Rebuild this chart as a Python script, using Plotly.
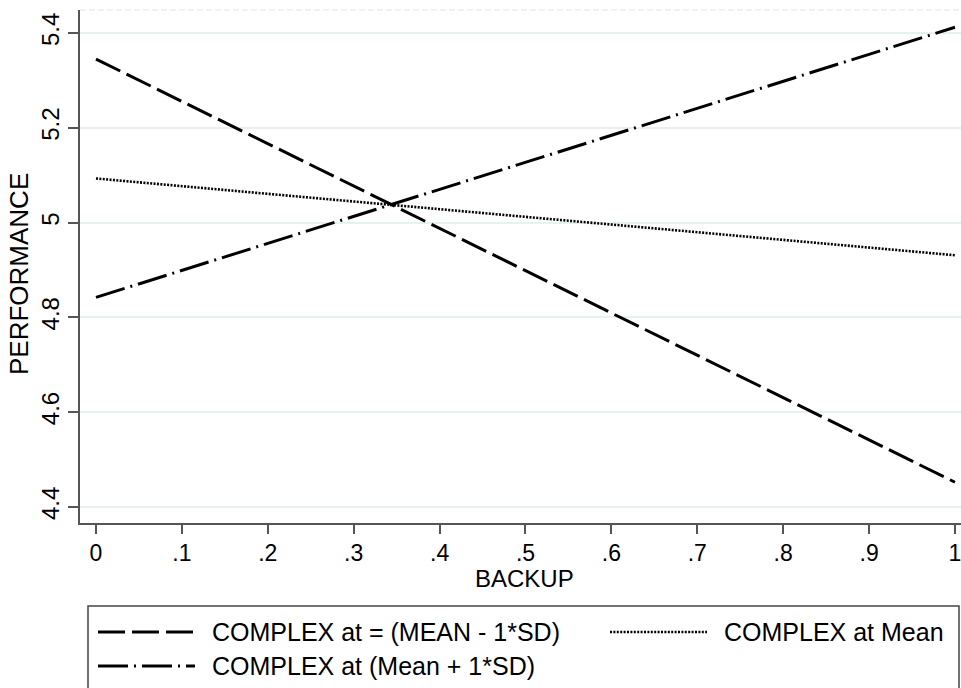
import plotly.graph_objects as go

# Data
backup = [0, 1]
perf_low = [5.345, 4.452]    # COMPLEX at = (MEAN - 1*SD)
perf_mean = [5.093, 4.931]   # COMPLEX at Mean
perf_high = [4.842, 5.412]   # COMPLEX at (Mean + 1*SD)

series_names = ["COMPLEX at = (MEAN - 1*SD)", "COMPLEX at Mean", "COMPLEX at (Mean + 1*SD)"]
x_ticks = [0, 0.1, 0.2, 0.3, 0.4, 0.5, 0.6, 0.7, 0.8, 0.9, 1]
x_ticklabels = ["0", ".1", ".2", ".3", ".4", ".5", ".6", ".7", ".8", ".9", "1"]
y_ticks = [4.4, 4.6, 4.8, 5.0, 5.2, 5.4]
y_ticklabels = ["4.4", "4.6", "4.8", "5", "5.2", "5.4"]

W, H = 961, 688
L, R, T, B = 80, 0, 10, 165
PW, PH = W - L - R, H - T - B

FONT = "Liberation Sans, Arial, sans-serif"
DASH_LONG = "27px,7px"
DASH_DOT = "30px,6px,2px,6px"
DOT = "2px,1.4px"

def px_x(px):
    return (px - L) / PW

def px_y(py):
    return (H - B - py) / PH

fig = go.Figure()
fig.add_trace(go.Scatter(x=backup, y=perf_low, mode="lines", name=series_names[0],
                         line=dict(color="black", width=3, dash=DASH_LONG), showlegend=False))
fig.add_trace(go.Scatter(x=backup, y=perf_mean, mode="lines", name=series_names[1],
                         line=dict(color="black", width=2.6, dash=DOT), showlegend=False))
fig.add_trace(go.Scatter(x=backup, y=perf_high, mode="lines", name=series_names[2],
                         line=dict(color="black", width=3, dash=DASH_DOT), showlegend=False))

axis_col = "#555555"
fig.update_xaxes(range=[-0.0186, 1.007], tickvals=x_ticks, ticktext=x_ticklabels,
                 showgrid=False, zeroline=False, showline=True, linecolor=axis_col, linewidth=1.5,
                 ticks="outside", ticklen=9, tickcolor=axis_col, tickwidth=1.5,
                 ticklabeloverflow="allow",
                 tickfont=dict(family=FONT, size=23, color="black"))
fig.update_yaxes(range=[4.366, 5.4485], tickvals=y_ticks, ticktext=y_ticklabels, tickangle=-90,
                 showgrid=True, gridcolor="#E8F0F2", gridwidth=1.5, zeroline=False,
                 showline=True, linecolor=axis_col, linewidth=1.5,
                 ticks="outside", ticklen=10, tickcolor=axis_col, tickwidth=1.5,
                 ticklabeloverflow="allow",
                 tickfont=dict(family=FONT, size=24, color="black"))

shapes = []
annotations = []
# faint top frame line
shapes.append(dict(type="line", xref="paper", yref="paper", x0=0, x1=1, y0=1, y1=1,
                   line=dict(color="#E8F0F2", width=1.5, dash="6px,3px")))
# axis titles
annotations.append(dict(text="BACKUP", xref="paper", yref="paper", x=px_x(524), y=px_y(578),
                        showarrow=False, font=dict(family=FONT, size=24, color="black"),
                        xanchor="center", yanchor="middle"))
annotations.append(dict(text="PERFORMANCE", xref="paper", yref="paper", x=px_x(19), y=px_y(274),
                        showarrow=False, textangle=-90, font=dict(family=FONT, size=26, color="black"),
                        xanchor="center", yanchor="middle"))
# legend box
shapes.append(dict(type="rect", xref="paper", yref="paper", x0=px_x(88), x1=px_x(959),
                   y0=px_y(606), y1=px_y(720), line=dict(color="#444444", width=1.5),
                   fillcolor="rgba(0,0,0,0)"))
legend_items = [
    (series_names[0], DASH_LONG, 3, 98, 195, 210, 632),
    (series_names[1], DOT, 2.6, 610, 707, 722, 632),
    (series_names[2], DASH_DOT, 3, 98, 195, 210, 666),
]
for name, dash, w, sx0, sx1, tx, ty in legend_items:
    shapes.append(dict(type="line", xref="paper", yref="paper", x0=px_x(sx0), x1=px_x(sx1),
                       y0=px_y(ty), y1=px_y(ty), line=dict(color="black", width=w, dash=dash)))
    annotations.append(dict(text=name, xref="paper", yref="paper", x=px_x(tx), y=px_y(ty),
                            showarrow=False, xanchor="left", yanchor="middle",
                            font=dict(family=FONT, size=25, color="black")))

fig.update_layout(width=W, height=H, margin=dict(l=L, r=R, t=T, b=B),
                  paper_bgcolor="white", plot_bgcolor="white", showlegend=False,
                  shapes=shapes, annotations=annotations)

fig.write_html("out.html", config={"displayModeBar": False},
               post_script="document.body.style.margin='0px';document.body.style.padding='0px';")
